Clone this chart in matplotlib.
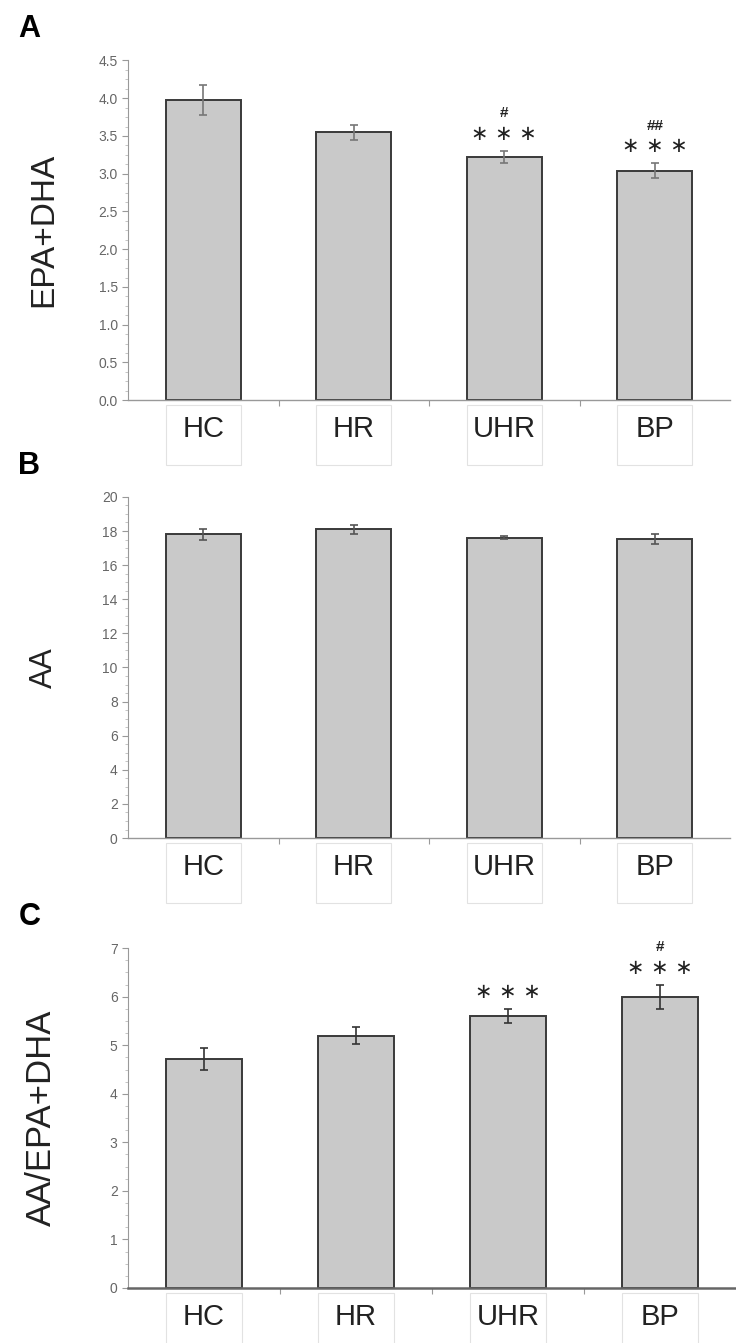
import matplotlib.pyplot as plt
from matplotlib.ticker import MultipleLocator, FormatStrFormatter
from matplotlib.patches import Rectangle
import matplotlib.transforms as mtransforms

plt.rcParams['font.family'] = ['Liberation Sans', 'DejaVu Sans']

groups = ['HC', 'HR', 'UHR', 'BP']

epa_dha = [3.98, 3.55, 3.22, 3.04]
epa_dha_err = [0.2, 0.1, 0.08, 0.1]
epa_dha_stars = ['', '', '***', '***']
epa_dha_hash = ['', '', '#', '##']

aa = [17.8, 18.1, 17.6, 17.55]
aa_err = [0.3, 0.25, 0.08, 0.3]

ratio = [4.72, 5.2, 5.6, 6.0]
ratio_err = [0.22, 0.18, 0.14, 0.25]
ratio_stars = ['', '', '***', '***']
ratio_hash = ['', '', '', '#']

fig = plt.figure(figsize=(7.36, 13.43), dpi=100)

panels = [
    dict(letter='A', rect=[0.174, 0.702, 0.818, 0.253], vals=epa_dha, err=epa_dha_err,
         ylim=4.5, major=0.5, fmt='%.1f', ylabel='EPA+DHA', stars=epa_dha_stars,
         hashes=epa_dha_hash, ecol='#777777', ysize=24),
    dict(letter='B', rect=[0.174, 0.376, 0.818, 0.254], vals=aa, err=aa_err,
         ylim=20, major=2, fmt='%d', ylabel='AA', stars=None, hashes=None,
         ecol='#555555', ysize=22),
    dict(letter='C', rect=[0.174, 0.041, 0.826, 0.253], vals=ratio, err=ratio_err,
         ylim=7, major=1, fmt='%d', ylabel='AA/EPA+DHA', stars=ratio_stars,
         hashes=ratio_hash, ecol='#333333', ysize=25),
]

x = range(len(groups))
for p in panels:
    ax = fig.add_axes(p['rect'])
    ax.bar(x, p['vals'], width=0.5, color='#c9c9c9', edgecolor='#3a3a3a', linewidth=1.4, zorder=2)
    ax.errorbar(x, p['vals'], yerr=p['err'], fmt='none', ecolor=p['ecol'], elinewidth=1.2,
                capsize=3, capthick=1.2, zorder=3)
    ax.set_xlim(-0.5, 3.5)
    ax.set_ylim(0, p['ylim'])
    ax.yaxis.set_major_locator(MultipleLocator(p['major']))
    ax.yaxis.set_minor_locator(MultipleLocator(p['major'] / 4))
    ax.yaxis.set_major_formatter(FormatStrFormatter(p['fmt']))
    for s in ['top', 'right']:
        ax.spines[s].set_visible(False)
    ax.spines['left'].set_color('#999999')
    ax.spines['bottom'].set_color('#999999' if p['letter'] != 'C' else '#666666')
    ax.spines['bottom'].set_linewidth(1.0 if p['letter'] != 'C' else 1.8)
    ax.tick_params(axis='y', which='major', labelsize=10, labelcolor='#666666', color='#999999', length=4)
    ax.tick_params(axis='y', which='minor', color='#bbbbbb', length=2)
    ax.set_xticks([0.5, 1.5, 2.5])
    ax.set_xticklabels([])
    ax.tick_params(axis='x', color='#999999', length=4)
    ax.set_ylabel(p['ylabel'], fontsize=p['ysize'], color='#222222')
    ax.yaxis.set_label_coords(-0.115, 0.5)

    trans = mtransforms.blended_transform_factory(ax.transData, ax.transAxes)
    for i, g in enumerate(groups):
        ax.add_patch(Rectangle((i - 0.25, -0.19), 0.5, 0.175, transform=trans, fill=False,
                               edgecolor='#e2e2e2', linewidth=0.8, clip_on=False))
        ax.text(i, -0.085, g, transform=trans, ha='center', va='center', fontsize=21,
                color='#222222')

    if p['stars']:
        for i, (st, hs) in enumerate(zip(p['stars'], p['hashes'])):
            top = p['vals'][i] + p['err'][i]
            if st:
                ax.annotate(' '.join('\u2217' * len(st)), (i, top), xytext=(0, 5),
                            textcoords='offset points', ha='center', va='bottom',
                            fontsize=15, color='#222222', family='DejaVu Sans')
            if hs:
                ax.annotate(hs, (i, top), xytext=(0, 22), textcoords='offset points',
                            ha='center', va='bottom', fontsize=11, fontweight='bold',
                            color='#222222')

    fig.text(0.025, p['rect'][1] + p['rect'][3] + 0.012, p['letter'], fontsize=22,
             fontweight='bold', ha='left', va='bottom')

fig.savefig('out.png', dpi=100)
